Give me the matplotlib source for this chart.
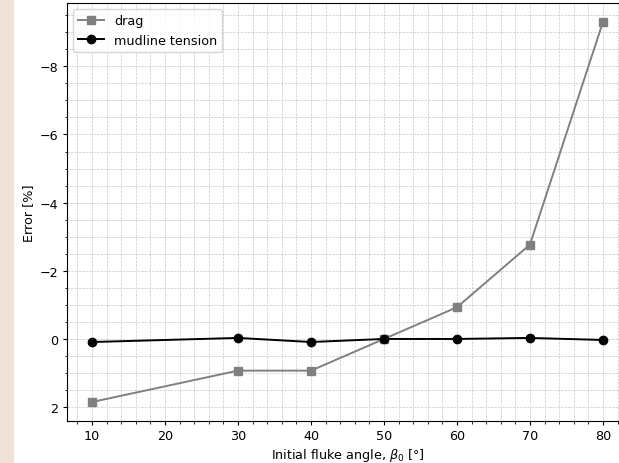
import numpy as np
import matplotlib
matplotlib.use("Agg")
import matplotlib.pyplot as plt
from matplotlib.patches import Rectangle
from matplotlib.ticker import AutoMinorLocator

# Initial fluke angle [deg] and relative errors [%]
beta0 = [10, 30, 40, 50, 60, 70, 80]
drag_err = [1.85, 0.93, 0.93, 0.0, -0.93, -2.77, -9.30]
tension_err = [0.09, -0.03, 0.09, 0.0, 0.0, -0.03, 0.03]

fig = plt.figure(figsize=(6.19, 4.64), dpi=100)
fig.patches.append(Rectangle((0, 0), 14 / 619, 1, transform=fig.transFigure,
                             facecolor="#efe2d8", edgecolor="none", zorder=0))

ax = fig.add_axes([66.5 / 619, 42 / 464, 562 / 619, 418 / 464])
ax.plot(beta0, drag_err, color="gray", marker="s", markersize=6,
        linewidth=1.4, label="drag")
ax.plot(beta0, tension_err, color="black", marker="o", markersize=6,
        linewidth=1.4, label="mudline tension")

ax.invert_yaxis()
ax.xaxis.set_minor_locator(AutoMinorLocator(5))
ax.yaxis.set_minor_locator(AutoMinorLocator(4))
ax.tick_params(which="major", labelsize=9.2, length=3, width=0.8, pad=3)
ax.tick_params(which="minor", length=1.8, width=0.6)
ax.grid(which="both", linestyle="--", linewidth=0.5, color="#c8c8c8")
ax.set_axisbelow(True)

ax.set_xlabel(r"Initial fluke angle, $\beta_0$ [°]", fontsize=9.2, labelpad=3)
ax.set_ylabel("Error [%]", fontsize=9.2, labelpad=3)
ax.legend(loc="upper left", fontsize=9.2)

fig.savefig("out.png", dpi=100)
